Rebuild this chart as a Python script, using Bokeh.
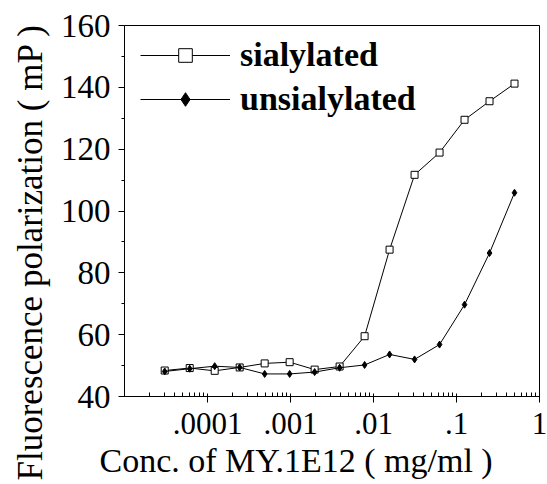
from bokeh.plotting import figure
from bokeh.models import Range1d, FixedTicker, Legend, LegendItem, Title
from bokeh.embed import file_html
from bokeh.resources import INLINE

# Concentration of MY.1E12 (mg/ml), two-fold dilution series
conc = [3.0517578125e-05, 6.103515625e-05, 0.0001220703125, 0.000244140625,
        0.00048828125, 0.0009765625, 0.001953125, 0.00390625, 0.0078125,
        0.015625, 0.03125, 0.0625, 0.125, 0.25, 0.5]
sialylated = [48.4, 49.2, 48.3, 49.4, 50.7, 51.1, 48.7, 49.7, 59.5,
              87.5, 111.7, 118.9, 129.5, 135.5, 141.2]
unsialylated = [48.1, 49.0, 49.8, 49.4, 47.3, 47.3, 47.9, 49.3, 50.2,
                53.6, 52.0, 56.8, 69.7, 86.4, 105.9]

x_tick_values = [1e-4, 1e-3, 1e-2, 1e-1, 1]
x_tick_labels = [".0001", ".001", ".01", ".1", "1"]
y_tick_values = [40, 60, 80, 100, 120, 140, 160]
y_minor_values = [50, 70, 90, 110, 130, 150]

FONT = "'Liberation Serif', 'Times New Roman', 'DejaVu Serif', serif"
TITLE_FONT = "Liberation Serif"

p = figure(width=547, height=484, x_axis_type="log",
           x_range=Range1d(1e-5, 1), y_range=Range1d(40, 160),
           output_backend="svg", toolbar_location=None,
           min_border_left=121, min_border_right=8,
           min_border_top=25, min_border_bottom=88)
p.grid.visible = False
p.outline_line_color = "black"
p.outline_line_width = 1
p.background_fill_color = "white"
p.border_fill_color = "white"

x_minor = [m * 10.0 ** e for e in range(-5, 0) for m in range(2, 10)]
p.xaxis.ticker = FixedTicker(ticks=x_tick_values, minor_ticks=x_minor)
p.xaxis.major_label_overrides = {v: s for v, s in zip(x_tick_values, x_tick_labels)}
p.yaxis.ticker = FixedTicker(ticks=y_tick_values, minor_ticks=y_minor_values)

for ax in (p.xaxis[0], p.yaxis[0]):
    ax.axis_line_color = "black"
    ax.major_tick_line_color = "black"
    ax.minor_tick_line_color = "black"
    ax.major_label_text_font = FONT
    ax.major_label_text_color = "black"

p.xaxis.major_label_text_font_size = "31px"
p.xaxis.major_tick_out = 6
p.xaxis.major_tick_in = 3
p.xaxis.minor_tick_out = 0
p.xaxis.minor_tick_in = 4
p.xaxis.major_label_standoff = 10

p.yaxis.major_label_text_font_size = "33px"
p.yaxis.major_tick_out = 6
p.yaxis.major_tick_in = 0
p.yaxis.minor_tick_out = 3
p.yaxis.minor_tick_in = 0
p.yaxis.major_label_standoff = 8

xlabel = Title(text="Conc. of MY.1E12 ( mg/ml )", align="left", offset=-25,
               text_font=TITLE_FONT, text_font_size="34px",
               text_font_style="normal", text_color="black", standoff=7)
p.add_layout(xlabel, "below")
ylabel = Title(text="Fluorescence  polarization ( mP )", align="left", offset=-84,
               text_font=TITLE_FONT, text_font_size="35px",
               text_font_style="normal", text_color="black", standoff=16)
p.add_layout(ylabel, "left")

l1 = p.line(conc, sialylated, line_color="black", line_width=1)
s1 = p.scatter(conc, sialylated, marker="square", size=7,
               fill_color="white", line_color="black", line_width=1)
l2 = p.line(conc, unsialylated, line_color="black", line_width=1)
s2 = p.scatter(conc, unsialylated, marker="diamond", size=7,
               fill_color="black", line_color="black")

legend = Legend(items=[LegendItem(label="sialylated", renderers=[l1, s1]),
                       LegendItem(label="unsialylated", renderers=[l2, s2])],
                location=(16, 278), border_line_color=None,
                background_fill_alpha=0, margin=0, padding=0,
                glyph_width=90, glyph_height=34, label_height=34,
                spacing=6, label_standoff=10,
                label_text_font=FONT, label_text_font_style="bold",
                label_text_font_size="34px", label_text_color="black")
p.add_layout(legend)

open("out.html", "w").write(file_html(p, INLINE))
